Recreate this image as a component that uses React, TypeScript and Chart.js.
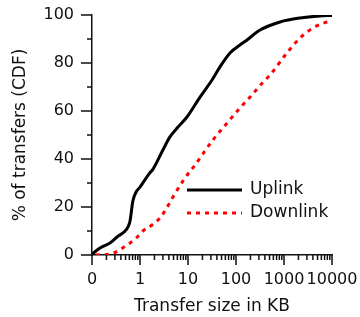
import React, { useEffect, useRef } from "react";
import { Chart, registerables } from "chart.js";

Chart.register(...registerables);

const uplinkKB = [0.1, 0.147, 0.237, 0.332, 0.49, 0.562, 0.62, 0.71, 0.83, 1.0, 1.6, 1.87, 3.0, 4.2, 6.2, 9.5, 17.8, 31.6, 46, 75, 121, 170, 316, 826, 2150, 5620, 10000];
const uplinkPct = [0.4, 2.9, 5, 7.5, 10, 11.7, 14.2, 22.5, 26.25, 28.3, 34.2, 35.8, 43.75, 49.2, 53.3, 57.5, 65.8, 72.9, 78.3, 84.2, 87.5, 89.6, 93.75, 97.1, 98.75, 99.6, 99.8];

const downlinkKB = [0.12, 0.237, 0.348, 0.464, 0.62, 0.83, 1.15, 1.78, 2.6, 3.6, 5.3, 8.6, 14, 17.8, 33, 68, 121, 215, 365, 511, 1150, 2150, 4020, 10000];
const downlinkPct = [0, 0.4, 1.7, 3.3, 5, 7, 10, 12.5, 15.4, 19.6, 25.4, 32, 37.5, 40.4, 47.9, 55.4, 61.25, 66.7, 72, 75, 84.2, 90.4, 94.6, 97.9];

const xTickValues = [0.1, 1, 10, 100, 1000, 10000];
const xTickLabels = ["0", "1", "10", "100", "1000", "10000"];
const yTickValues = [0, 20, 40, 60, 80, 100];
const yMinorValues = [10, 30, 50, 70, 90];
const seriesNames = ["Uplink", "Downlink"];

const FONT = "'DejaVu Sans', Verdana, sans-serif";
const INK = "#111";

const tickMarks = {
  id: "tickMarks",
  afterDraw(chart: any) {
    const ctx = chart.ctx;
    const xs = chart.scales.x;
    const ys = chart.scales.y;
    const area = chart.chartArea;
    ctx.save();
    ctx.strokeStyle = INK;
    ctx.lineWidth = 1.5;
    ctx.beginPath();
    for (let i = 0; i < xTickValues.length; i++) {
      const base = xTickValues[i];
      const px = xs.getPixelForValue(base);
      ctx.moveTo(px, area.bottom);
      ctx.lineTo(px, area.bottom + 10);
      if (i < xTickValues.length - 1) {
        for (let k = 2; k <= 9; k++) {
          const mx = xs.getPixelForValue(base * k);
          ctx.moveTo(mx, area.bottom);
          ctx.lineTo(mx, area.bottom + 5);
        }
      }
    }
    for (const v of yTickValues) {
      const py = ys.getPixelForValue(v);
      ctx.moveTo(area.left, py);
      ctx.lineTo(area.left - 11, py);
    }
    for (const v of yMinorValues) {
      const py = ys.getPixelForValue(v);
      ctx.moveTo(area.left, py);
      ctx.lineTo(area.left - 5, py);
    }
    ctx.stroke();

    const lx0 = area.left + 95;
    const lx1 = area.left + 150;
    const tx = area.left + 158;
    const rows = [area.top + 175, area.top + 198];
    chart.data.datasets.forEach((ds: any, i: number) => {
      const y = rows[i];
      ctx.beginPath();
      ctx.strokeStyle = ds.borderColor;
      ctx.lineWidth = ds.borderWidth;
      ctx.setLineDash(ds.borderDash || []);
      ctx.moveTo(lx0, y);
      ctx.lineTo(lx1, y);
      ctx.stroke();
      ctx.setLineDash([]);
      ctx.fillStyle = INK;
      ctx.font = `17px ${FONT}`;
      ctx.textBaseline = "middle";
      ctx.textAlign = "left";
      ctx.fillText(ds.label, tx, y);
    });
    ctx.restore();
  },
};

const zeroPad = (s: any) => {
  s.paddingTop = 0;
  s.paddingBottom = 0;
  s.paddingLeft = 0;
  s.paddingRight = 0;
};

export default function App() {
  const ref = useRef<HTMLCanvasElement>(null);
  useEffect(() => {
    if (!ref.current) return;
    const chart = new Chart(ref.current, {
      type: "line",
      data: {
        datasets: [
          {
            label: seriesNames[0],
            data: uplinkKB.map((x, i) => ({ x, y: uplinkPct[i] })),
            borderColor: "#000",
            borderWidth: 3,
            pointRadius: 0,
            cubicInterpolationMode: "monotone",
          },
          {
            label: seriesNames[1],
            data: downlinkKB.map((x, i) => ({ x, y: downlinkPct[i] })),
            borderColor: "#ff0000",
            borderWidth: 3,
            borderDash: [4, 5],
            pointRadius: 0,
            cubicInterpolationMode: "monotone",
          },
        ],
      },
      options: {
        animation: false,
        responsive: false,
        maintainAspectRatio: false,
        layout: { padding: { top: 15, right: 28, left: 0, bottom: 0 } },
        plugins: { legend: { display: false }, tooltip: { enabled: false } },
        scales: {
          x: {
            type: "logarithmic",
            min: 0.1,
            max: 10000,
            grid: { display: false, drawTicks: false },
            border: { display: true, color: INK, width: 1.5 },
            afterBuildTicks: (s: any) => {
              s.ticks = xTickValues.map((v) => ({ value: v }));
            },
            afterFit: (s: any) => {
              s.height = 62;
              zeroPad(s);
            },
            ticks: {
              autoSkip: false,
              maxRotation: 0,
              padding: 15,
              color: INK,
              font: { family: FONT, size: 16 },
              callback: (v: any) => {
                const idx = xTickValues.indexOf(Number(v));
                return idx >= 0 ? xTickLabels[idx] : "";
              },
            },
            title: {
              display: true,
              text: "Transfer size in KB",
              color: INK,
              font: { family: FONT, size: 17 },
              padding: { top: 1, bottom: 0 },
            },
          },
          y: {
            type: "linear",
            min: 0,
            max: 100,
            grid: { display: false, drawTicks: false },
            border: { display: true, color: INK, width: 1.5 },
            afterBuildTicks: (s: any) => {
              s.ticks = yTickValues.map((v) => ({ value: v }));
            },
            afterFit: (s: any) => {
              s.width = 92;
              zeroPad(s);
            },
            ticks: {
              padding: 18,
              color: INK,
              font: { family: FONT, size: 16 },
            },
            title: {
              display: true,
              text: "% of transfers (CDF)",
              color: INK,
              font: { family: FONT, size: 17 },
              padding: { top: 10, bottom: 0 },
            },
          },
        },
      },
      plugins: [tickMarks],
    });
    return () => chart.destroy();
  }, []);
  return (
    <div style={{ position: "fixed", left: 0, top: 0, width: 360, height: 317 }}>
      <canvas ref={ref} width={360} height={317} style={{ width: 360, height: 317, display: "block" }} />
    </div>
  );
}
